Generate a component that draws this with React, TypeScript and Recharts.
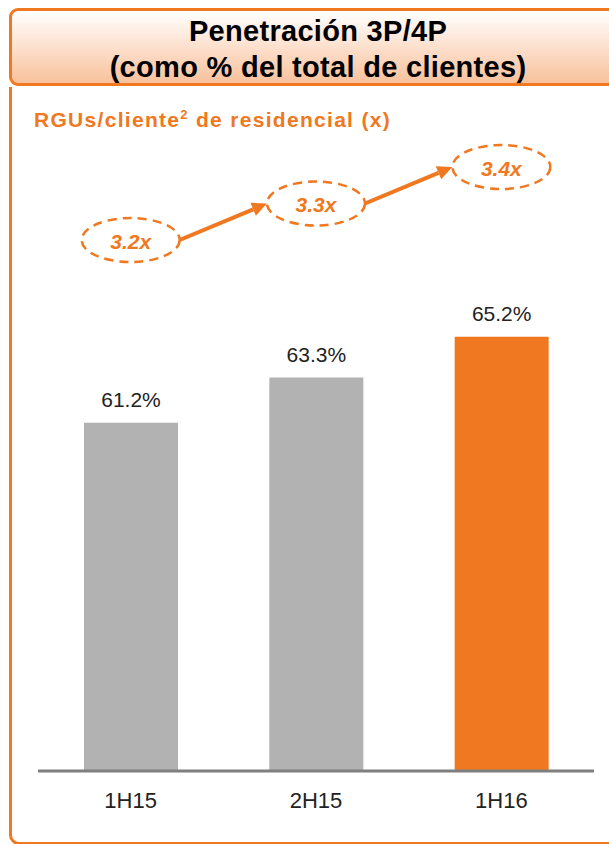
import React from 'react'
import { ComposedChart, Bar, Line, XAxis, YAxis, Cell, LabelList } from 'recharts'

const periods = ['1H15', '2H15', '1H16']
const penetration = [61.2, 63.3, 65.2]
const rguPerClient = [3.2, 3.3, 3.4]
const barColors = ['#b2b2b2', '#b2b2b2', '#f07820']

const ORANGE = '#f07820'
const FONT = 'Arial, "Liberation Sans", sans-serif'
const RX = 49
const RY = 22

const data = periods.map((p, i) => ({ period: p, pct: penetration[i], rgu: rguPerClient[i] }))

function RguDot(props: any) {
  const { cx, cy, index, value, points } = props
  if (cx == null || cy == null) return null
  const next = points && points[index + 1]
  let arrow = null
  if (next) {
    const x1 = cx + RX
    const y1 = cy
    const x2 = next.x - RX
    const y2 = next.y
    const ang = Math.atan2(y2 - y1, x2 - x1)
    const hl = 15
    const hw = 7
    const bx = x2 - hl * Math.cos(ang)
    const by = y2 - hl * Math.sin(ang)
    const px = -Math.sin(ang) * hw
    const py = Math.cos(ang) * hw
    arrow = (
      <g>
        <line x1={x1} y1={y1} x2={bx} y2={by} stroke={ORANGE} strokeWidth={4} />
        <polygon points={`${x2},${y2} ${bx + px},${by + py} ${bx - px},${by - py}`} fill={ORANGE} />
      </g>
    )
  }
  return (
    <g key={`rgu-${index}`}>
      {arrow}
      <ellipse cx={cx} cy={cy} rx={RX} ry={RY} fill="#fff" stroke={ORANGE} strokeWidth={2.5} strokeDasharray="9 6" />
      <text
        x={cx}
        y={cy + 1}
        textAnchor="middle"
        dominantBaseline="central"
        fill={ORANGE}
        fontSize={21}
        fontWeight="bold"
        fontStyle="italic"
        fontFamily={FONT}
      >
        {`${value.toFixed(1)}x`}
      </text>
    </g>
  )
}

export default function App() {
  return (
    <div style={{ position: 'absolute', left: 0, top: 0, width: 609, height: 844, overflow: 'hidden', background: '#fff', fontFamily: FONT }}>
      {/* header box */}
      <div
        style={{
          position: 'absolute', left: 9, top: 8, width: 640, height: 72,
          border: `3px solid ${ORANGE}`, borderRadius: 9,
          background: 'linear-gradient(to bottom, #ffffff 0%, #fde3d2 45%, #f8c19c 100%)',
        }}
      />
      {/* body panel */}
      <div
        style={{
          position: 'absolute', left: 9, top: 87, width: 640, height: 755,
          borderLeft: `3px solid ${ORANGE}`, borderBottom: `3px solid ${ORANGE}`, borderBottomLeftRadius: 10,
        }}
      />
      <div
        style={{
          position: 'absolute', left: 10, top: 13, width: 616, textAlign: 'center',
          fontSize: 29, fontWeight: 'bold', lineHeight: '36px', letterSpacing: 0.3, color: '#000',
          whiteSpace: 'nowrap',
        }}
      >
        <div>Penetración 3P/4P</div>
        <div>(como % del total de clientes)</div>
      </div>
      <div
        style={{
          position: 'absolute', left: 34, top: 108, fontSize: 21, fontWeight: 'bold',
          color: ORANGE, lineHeight: '24px', letterSpacing: 1.3, whiteSpace: 'nowrap',
        }}
      >
        RGUs/cliente<span style={{ fontSize: 13, verticalAlign: 'super', lineHeight: 0 }}>2</span> de residencial (x)
      </div>

      <div style={{ position: 'absolute', left: 0, top: 0 }}>
        <ComposedChart width={609} height={844} data={data} margin={{ top: 140, right: 15, bottom: 43, left: 38 }}>
          <XAxis
            dataKey="period"
            axisLine={{ stroke: '#7f7f7f', strokeWidth: 3 }}
            tickLine={false}
            tickSize={0}
            tickMargin={21}
            tick={{ fontSize: 22, fill: '#222', fontFamily: FONT }}
          />
          <YAxis yAxisId="pct" hide domain={[45, 74.35]} />
          <YAxis yAxisId="rgu" hide orientation="right" domain={[1.7452, 3.474]} />
          <Bar yAxisId="pct" dataKey="pct" barSize={94} isAnimationActive={false}>
            {data.map((d, i) => (
              <Cell key={d.period} fill={barColors[i]} />
            ))}
            <LabelList
              dataKey="pct"
              position="top"
              offset={16}
              formatter={(v: any) => `${Number(v).toFixed(1)}%`}
              style={{ fontSize: 21, fill: '#222', fontFamily: FONT }}
            />
          </Bar>
          <Line
            yAxisId="rgu"
            dataKey="rgu"
            stroke="none"
            dot={(p: any) => <RguDot {...p} />}
            activeDot={false}
            legendType="none"
            isAnimationActive={false}
          />
        </ComposedChart>
      </div>
    </div>
  )
}
